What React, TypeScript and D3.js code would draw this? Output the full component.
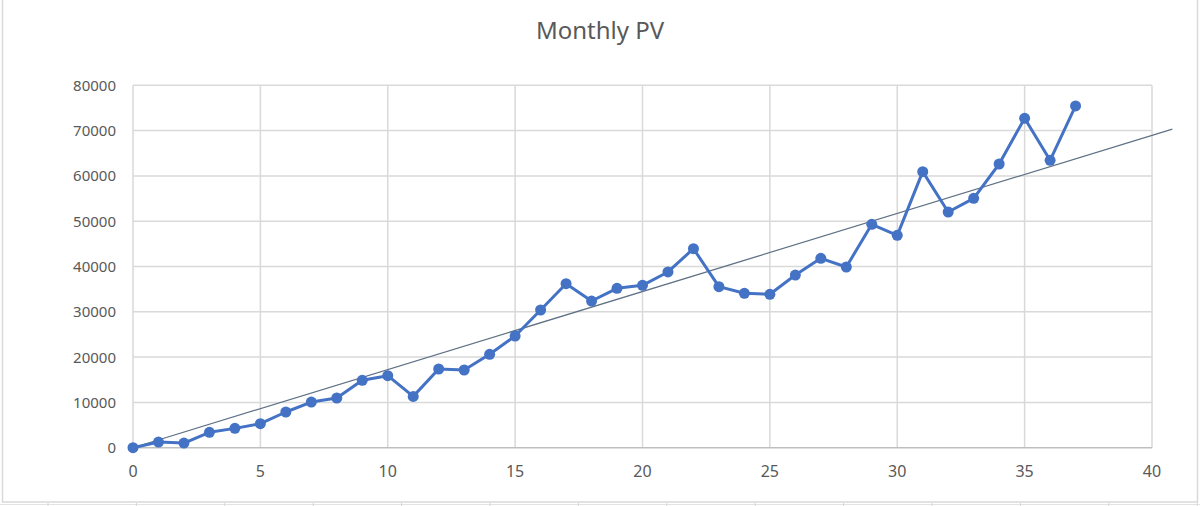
import { useEffect, useRef } from 'react'
import * as d3 from 'd3'

// monthly page views, month index 0..37
const months = d3.range(0, 38)
const pageViews = [
  0, 1250, 1030, 3390, 4270, 5300, 7880, 10080, 10970, 14870,
  15900, 11330, 17370, 17150, 20610, 24650, 30400, 36210, 32380, 35180,
  35840, 38790, 43940, 35550, 34080, 33860, 38120, 41800, 39890, 49310,
  46880, 60940, 52030, 55050, 62630, 72710, 63440, 75440
]
const xTicks = [0, 5, 10, 15, 20, 25, 30, 35, 40]
const yTicks = [0, 10000, 20000, 30000, 40000, 50000, 60000, 70000, 80000]
const trendEnd = 40.8

const width = 1200
const height = 506
const margin = { top: 85.3, right: 48, bottom: 58.3, left: 133 }

export default function App() {
  const svgRef = useRef<SVGSVGElement>(null)

  useEffect(() => {
    if (!svgRef.current) return
    const svg = d3.select(svgRef.current)
    svg.selectAll('*').remove()

    const x = d3.scaleLinear()
      .domain([0, 40])
      .range([margin.left, width - margin.right])

    const y = d3.scaleLinear()
      .domain([0, 80000])
      .range([height - margin.bottom, margin.top])

    // chart area background + border
    svg.append('rect')
      .attr('x', 0).attr('y', 0)
      .attr('width', width).attr('height', height)
      .attr('fill', '#ffffff')

    // sheet cell lines below the chart
    svg.append('line')
      .attr('x1', 0).attr('x2', width)
      .attr('y1', 504.5).attr('y2', 504.5)
      .attr('stroke', '#e3e3e3')
    svg.selectAll('.cell')
      .data(d3.range(0, 14))
      .enter()
      .append('line')
      .attr('x1', (d: number) => 48 + d * 88.4)
      .attr('x2', (d: number) => 48 + d * 88.4)
      .attr('y1', 503).attr('y2', 506)
      .attr('stroke', '#d6d6d6')

    svg.append('rect')
      .attr('x', 2.5).attr('y', -5)
      .attr('width', 1195).attr('height', 507)
      .attr('fill', 'none')
      .attr('stroke', '#d9d9d9')
      .attr('stroke-width', 1.5)

    // title
    svg.append('text')
      .attr('x', 600).attr('y', 39)
      .attr('text-anchor', 'middle')
      .attr('font-family', '"Noto Sans", sans-serif')
      .attr('font-size', 24)
      .attr('fill', '#595959')
      .text('Monthly PV')

    // gridlines
    svg.append('g')
      .selectAll('line')
      .data(yTicks.slice(1))
      .enter()
      .append('line')
      .attr('x1', x(0)).attr('x2', x(40))
      .attr('y1', (d: number) => y(d)).attr('y2', (d: number) => y(d))
      .attr('stroke', '#d9d9d9')
      .attr('stroke-width', 1.5)

    svg.append('g')
      .selectAll('line')
      .data(xTicks)
      .enter()
      .append('line')
      .attr('x1', (d: number) => x(d)).attr('x2', (d: number) => x(d))
      .attr('y1', y(0)).attr('y2', y(80000))
      .attr('stroke', '#d9d9d9')
      .attr('stroke-width', 1.5)

    // x axis line
    svg.append('line')
      .attr('x1', x(0)).attr('x2', x(40))
      .attr('y1', y(0)).attr('y2', y(0))
      .attr('stroke', '#bfbfbf')
      .attr('stroke-width', 1.5)

    // axis labels
    svg.append('g')
      .selectAll('text')
      .data(yTicks)
      .enter()
      .append('text')
      .attr('x', 116)
      .attr('y', (d: number) => y(d) + 5.5)
      .attr('text-anchor', 'end')
      .attr('font-family', '"Noto Sans", sans-serif')
      .attr('font-size', 15)
      .attr('fill', '#595959')
      .text((d: number) => String(d))

    svg.append('g')
      .selectAll('text')
      .data(xTicks)
      .enter()
      .append('text')
      .attr('x', (d: number) => x(d))
      .attr('y', 477)
      .attr('text-anchor', 'middle')
      .attr('font-family', '"Noto Sans", sans-serif')
      .attr('font-size', 16)
      .attr('fill', '#595959')
      .text((d: number) => String(d))

    // linear trendline through origin (least squares)
    const sxy = d3.sum(months, (m: number, i: number) => m * pageViews[i])
    const sxx = d3.sum(months, (m: number) => m * m)
    const slope = sxy / sxx
    const trend = d3.line<number>()
      .x((d: number) => x(d))
      .y((d: number) => y(slope * d))

    svg.append('path')
      .datum([0, trendEnd])
      .attr('fill', 'none')
      .attr('stroke', '#5f7185')
      .attr('stroke-width', 1.2)
      .attr('d', trend)

    // series line
    const line = d3.line<number>()
      .x((_d: number, i: number) => x(months[i]))
      .y((d: number) => y(d))

    svg.append('path')
      .datum(pageViews)
      .attr('fill', 'none')
      .attr('stroke', '#4472c4')
      .attr('stroke-width', 3)
      .attr('stroke-linejoin', 'round')
      .attr('d', line)

    svg.selectAll('circle')
      .data(pageViews)
      .enter()
      .append('circle')
      .attr('cx', (_d: number, i: number) => x(months[i]))
      .attr('cy', (d: number) => y(d))
      .attr('r', 5.5)
      .attr('fill', '#4472c4')
  }, [])

  return (
    <svg
      ref={svgRef}
      width={width}
      height={height}
      style={{ position: 'absolute', left: 0, top: 0 }}
    />
  )
}
